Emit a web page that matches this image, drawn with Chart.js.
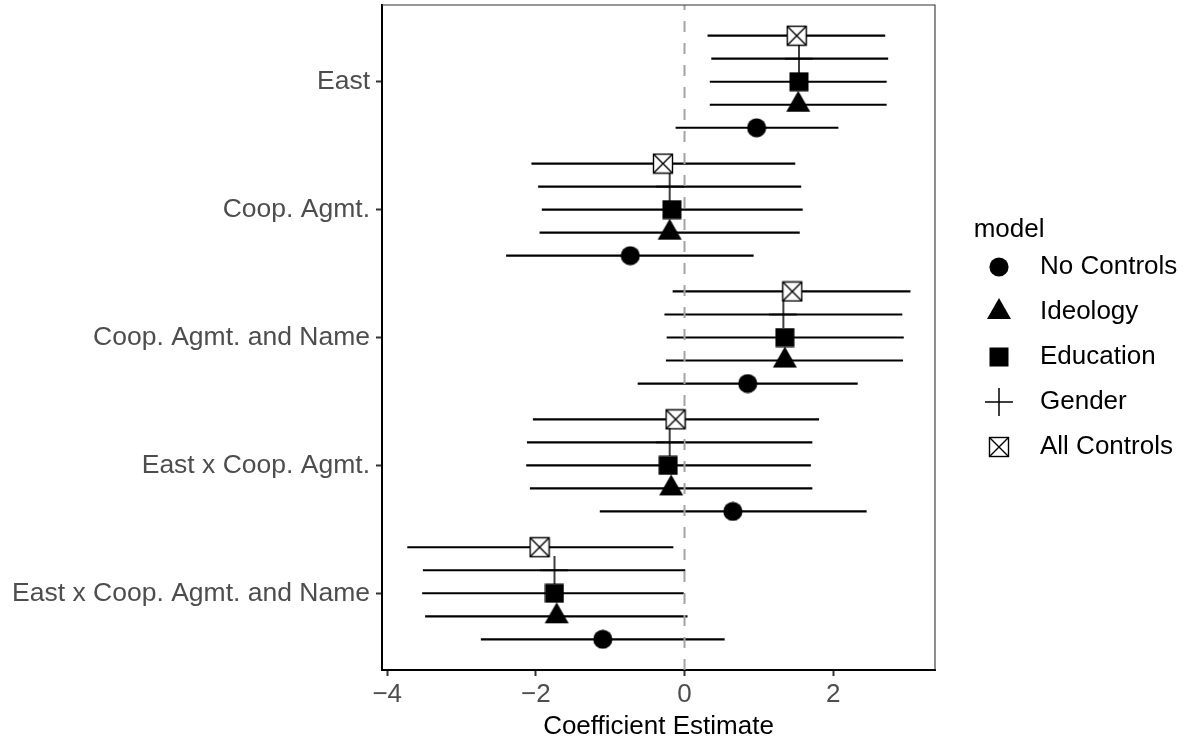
<!DOCTYPE html>
<html>
<head>
<meta charset="utf-8">
<script src="https://cdn.jsdelivr.net/npm/chart.js@4.4.1/dist/chart.umd.min.js"></script>
<style>
  body { margin: 0; background: #fff; }
  #wrap { width: 1185px; height: 742px; }
</style>
</head>
<body>
<div id="wrap"><canvas id="myChart"></canvas></div>
<script>
// terms, listed top to bottom as in the picture
const categories = [
    'East',
    'Coop. Agmt.',
    'Coop. Agmt. and Name',
    'East x Coop. Agmt.',
    'East x Coop. Agmt. and Name',
];

const models = ['No Controls', 'Ideology', 'Education', 'Gender', 'All Controls'];

// point estimates
const noControlsEst  = [0.97, -0.73, 0.85, 0.65, -1.10];
const ideologyEst    = [1.53, -0.20, 1.35, -0.18, -1.72];
const educationEst   = [1.54, -0.17, 1.35, -0.22, -1.75];
const genderEst      = [1.54, -0.20, 1.33, -0.20, -1.75];
const allControlsEst = [1.51, -0.29, 1.45, -0.12, -1.95];

// lower bounds
const noControlsLo  = [-0.12, -2.40, -0.63, -1.14, -2.74];
const ideologyLo    = [0.34, -1.95, -0.25, -2.08, -3.49];
const educationLo   = [0.34, -1.92, -0.24, -2.13, -3.53];
const genderLo      = [0.36, -1.97, -0.27, -2.12, -3.52];
const allControlsLo = [0.31, -2.06, -0.16, -2.04, -3.73];

// upper bounds
const noControlsHi  = [2.07, 0.93, 2.33, 2.45, 0.54];
const ideologyHi    = [2.72, 1.55, 2.94, 1.72, 0.04];
const educationHi   = [2.72, 1.59, 2.95, 1.70, -0.01];
const genderHi      = [2.74, 1.57, 2.93, 1.72, 0.01];
const allControlsHi = [2.70, 1.49, 3.04, 1.81, -0.15];

const xTicks = [-4, -2, 0, 2];

const estimates = [noControlsEst, ideologyEst, educationEst, genderEst, allControlsEst];
const lows = [noControlsLo, ideologyLo, educationLo, genderLo, allControlsLo];
const highs = [noControlsHi, ideologyHi, educationHi, genderHi, allControlsHi];

const dodge = [-0.36, -0.18, 0, 0.18, 0.36];
const nCat = categories.length;
const yMin = 0.4, yMax = nCat + 0.6;
const FONT = "'Liberation Sans', Arial, sans-serif";

// shapes drawn once onto small canvases, used as point styles
function shape(kind) {
    const c = document.createElement('canvas');
    const s = (kind === 'triangle' || kind === 'plus') ? 28 : (kind === 'box' ? 22 : 20);
    c.width = s; c.height = s;
    const g = c.getContext('2d');
    g.fillStyle = '#000';
    g.strokeStyle = '#000';
    if (kind === 'circle') {
        g.beginPath(); g.arc(10, 10, 9.6, 0, Math.PI * 2); g.fill();
    } else if (kind === 'triangle') {
        g.beginPath(); g.moveTo(14, 0); g.lineTo(26, 21); g.lineTo(2, 21); g.closePath(); g.fill();
    } else if (kind === 'square') {
        g.fillRect(0.5, 0.5, 19, 19);
    } else if (kind === 'plus') {
        g.lineWidth = 1.5;
        g.beginPath(); g.moveTo(14, 0); g.lineTo(14, 28); g.moveTo(0, 14); g.lineTo(28, 14); g.stroke();
    } else {
        g.fillStyle = '#fff';
        g.fillRect(1, 1, 20, 20);
        g.lineWidth = 1.4;
        g.strokeRect(1.5, 1.5, 19, 19);
        g.beginPath(); g.moveTo(1.5, 1.5); g.lineTo(20.5, 20.5); g.moveTo(20.5, 1.5); g.lineTo(1.5, 20.5); g.stroke();
    }
    return c;
}
const styles = ['circle', 'triangle', 'square', 'plus', 'box'].map(shape);

const datasets = [];

// dashed reference line at zero
datasets.push({
    data: [{x: 0, y: yMin}, {x: 0, y: yMax}],
    showLine: true,
    borderColor: '#a3a3a3',
    borderWidth: 2,
    borderDash: [11, 11],
    pointRadius: 0,
    order: 1,
});

models.forEach((m, k) => {
    const bars = [];
    categories.forEach((c, i) => {
        const y = (nCat - i) + dodge[k];
        bars.push({x: lows[k][i], y}, {x: highs[k][i], y}, {x: null, y: null});
    });
    datasets.push({
        data: bars,
        showLine: true,
        spanGaps: false,
        borderColor: '#000',
        borderWidth: 2.2,
        pointRadius: 0,
        order: 2,
    });
});

models.forEach((m, k) => {
    datasets.push({
        label: m,
        isModel: true,
        data: categories.map((c, i) => ({x: estimates[k][i], y: (nCat - i) + dodge[k]})),
        pointStyle: styles[k],
        pointRadius: 10,
        backgroundColor: '#000',
        borderColor: '#000',
        order: 0,
    });
});

// top and right panel border
const frame = {
    id: 'frame',
    afterDraw(chart) {
        const {ctx, chartArea: a} = chart;
        ctx.save();
        ctx.strokeStyle = '#333';
        ctx.lineWidth = 1.1;
        ctx.beginPath();
        ctx.moveTo(a.left, a.top);
        ctx.lineTo(a.right, a.top);
        ctx.lineTo(a.right, a.bottom);
        ctx.stroke();
        ctx.restore();
    }
};

const config = {
    type: 'scatter',
    data: {datasets},
    plugins: [frame],
    options: {
        responsive: true,
        maintainAspectRatio: false,
        animation: false,
        events: [],
        layout: {autoPadding: false, padding: {left: 10, top: 5, right: 0, bottom: 0}},
        scales: {
            x: {
                type: 'linear',
                min: -4.07,
                max: 3.37,
                afterBuildTicks: s => { s.ticks = xTicks.map(v => ({value: v})); },
                afterFit: s => { s.height = 72; },
                ticks: {
                    font: {family: FONT, size: 26},
                    color: '#4d4d4d',
                    padding: 3,
                    maxRotation: 0,
                    callback: v => (v < 0 ? '\u2212' + Math.abs(v) : String(v)),
                },
                grid: {drawOnChartArea: false, tickLength: 6, tickWidth: 2, tickColor: '#333'},
                border: {color: '#000', width: 2},
                title: {
                    display: true,
                    text: 'Coefficient Estimate',
                    font: {family: FONT, size: 26},
                    color: '#000',
                    padding: 0,
                },
            },
            y: {
                type: 'linear',
                min: yMin,
                max: yMax,
                afterBuildTicks: s => { s.ticks = categories.map((c, i) => ({value: nCat - i})); },
                afterFit: s => { s.width = 372; s.paddingTop = 0; s.paddingBottom = 0; },
                ticks: {
                    font: {family: FONT, size: 26.5},
                    color: '#4d4d4d',
                    padding: 6,
                    autoSkip: false,
                    callback: v => categories[nCat - v],
                },
                grid: {drawOnChartArea: false, tickLength: 6, tickWidth: 2, tickColor: '#333'},
                border: {color: '#000', width: 2},
            },
            gap: {
                type: 'linear',
                position: 'right',
                min: 0,
                max: 1,
                grid: {display: false},
                ticks: {display: false},
                border: {display: false},
                afterFit: s => { s.width = 17; s.paddingTop = 0; s.paddingBottom = 0; },
            },
        },
        plugins: {
            tooltip: {enabled: false},
            legend: {
                position: 'right',
                align: 'start',
                maxWidth: 233,
                labels: {
                    usePointStyle: true,
                    pointStyleWidth: 56,
                    padding: 19,
                    color: '#000',
                    font: {family: FONT, size: 26},
                    filter: (item, data) => data.datasets[item.datasetIndex].isModel === true,
                },
                title: {
                    display: true,
                    text: '   model',
                    position: 'start',
                    color: '#000',
                    font: {family: FONT, size: 26, lineHeight: 1},
                    padding: {top: 212, bottom: -8},
                },
            },
        },
    },
};

const myChart = new Chart(document.getElementById('myChart'), config);
</script>
</body>
</html>
